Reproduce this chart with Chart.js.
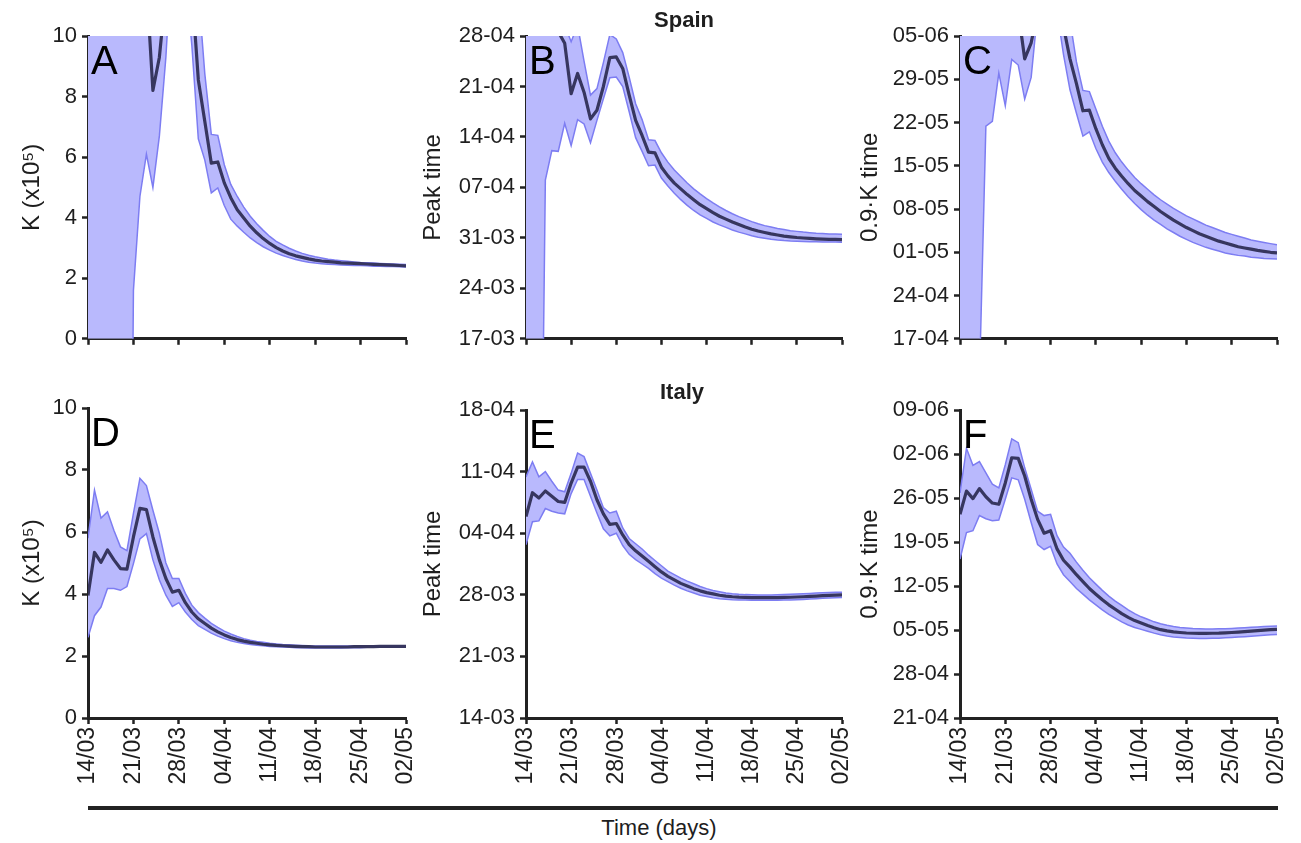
<!DOCTYPE html>
<html>
<head>
<meta charset="utf-8">
<script src="https://cdn.jsdelivr.net/npm/chart.js@4.4.1/dist/chart.umd.min.js"></script>
<style>
  body { margin: 0; background: #fff; width: 1301px; height: 843px; position: relative; overflow: hidden;
         font-family: "Liberation Sans", Arial, sans-serif; color: #1e1e1e; }
  canvas { position: absolute; }
  .country { position: absolute; font-weight: bold; font-size: 22px; line-height: 22px; transform: translateX(-50%); }
  #timeLine { position: absolute; left: 88px; top: 806px; width: 1190px; height: 4px; background: #222; }
  #timeLabel { position: absolute; left: 659px; top: 816px; font-size: 22px; line-height: 24px; transform: translateX(-50%); }
</style>
</head>
<body>
<canvas id="cA" width="420" height="357" style="left:0px;top:0px"></canvas>
<canvas id="cB" width="440" height="357" style="left:410px;top:0px"></canvas>
<canvas id="cC" width="456" height="357" style="left:845px;top:0px"></canvas>
<canvas id="cD" width="420" height="420" style="left:0px;top:372px"></canvas>
<canvas id="cE" width="440" height="420" style="left:410px;top:372px"></canvas>
<canvas id="cF" width="456" height="420" style="left:845px;top:372px"></canvas>
<div class="country" style="left:684px;top:9px">Spain</div>
<div class="country" style="left:682px;top:381px">Italy</div>
<div id="timeLine"></div>
<div id="timeLabel">Time (days)</div>

<script>
// x: days since 14/03 (one point per day up to 02/05)
const xTickDays = [0, 7, 14, 21, 28, 35, 42, 49];
const xTickLabels = ['14/03', '21/03', '28/03', '04/04', '11/04', '18/04', '25/04', '02/05'];

// y ticks. Dates are counted as days since 01-03
const kTicks = [0, 2, 4, 6, 8, 10];
const kTickLabels = ['0', '2', '4', '6', '8', '10'];
const peakSpainTicks = [16, 23, 30, 37, 44, 51, 58];
const peakSpainLabels = ['17-03', '24-03', '31-03', '07-04', '14-04', '21-04', '28-04'];
const kTimeSpainTicks = [47, 54, 61, 68, 75, 82, 89, 96];
const kTimeSpainLabels = ['17-04', '24-04', '01-05', '08-05', '15-05', '22-05', '29-05', '05-06'];
const peakItalyTicks = [13, 20, 27, 34, 41, 48];
const peakItalyLabels = ['14-03', '21-03', '28-03', '04-04', '11-04', '18-04'];
const kTimeItalyTicks = [51, 58, 65, 72, 79, 86, 93, 100];
const kTimeItalyLabels = ['21-04', '28-04', '05-05', '12-05', '19-05', '26-05', '02-06', '09-06'];

// Spain, K (x10^5)
const kSpain = [20, 24, 28, 26, 22, 19, 17, 15, 13.5, 11.8, 8.2, 9.3, 11.5, 14, 16, 14, 11.6, 8.55, 7.18, 5.8,
  5.84, 5.15, 4.66, 4.26, 3.99, 3.72, 3.5, 3.31, 3.15, 3.01, 2.9, 2.81, 2.74, 2.69, 2.64, 2.6, 2.57, 2.55, 2.53, 2.51,
  2.5, 2.49, 2.48, 2.47, 2.46, 2.45, 2.44, 2.43, 2.42, 2.41];
const kSpainUpper = [40, 45, 50, 45, 40, 38, 35, 33, 30, 25, 22, 20, 25, 28, 26, 20, 15, 11.5, 8.75, 6.75,
  6.72, 5.75, 5.1, 4.7, 4.35, 4.05, 3.8, 3.58, 3.38, 3.22, 3.1, 2.99, 2.9, 2.82, 2.76, 2.71, 2.67, 2.63, 2.6, 2.58,
  2.56, 2.54, 2.52, 2.51, 2.5, 2.49, 2.48, 2.47, 2.46, 2.45];
const kSpainLower = [-30, -40, -50, -45, -40, -35, -25, 1.6, 4.7, 6.1, 5.0, 6.7, 9.3, 13, 15, 12, 9.7, 6.6, 5.9, 4.82,
  4.98, 4.4, 3.95, 3.72, 3.52, 3.33, 3.18, 3.04, 2.93, 2.83, 2.75, 2.68, 2.62, 2.57, 2.53, 2.5, 2.48, 2.46, 2.45, 2.44,
  2.43, 2.42, 2.42, 2.41, 2.4, 2.4, 2.39, 2.39, 2.38, 2.37];

// Spain, peak time
const peakSpain = [66, 68, 67, 64, 61, 58.6, 57.0, 50.0, 52.8, 50.2, 46.5, 47.7, 51.0, 55.0, 55.1, 53.5, 49.8, 46.3, 44.2, 41.9,
  41.8, 39.8, 38.6, 37.6, 36.8, 36.0, 35.3, 34.6, 34.05, 33.5, 33.0, 32.6, 32.2, 31.85, 31.5, 31.2, 30.95, 30.75, 30.55, 30.4,
  30.25, 30.15, 30.05, 29.98, 29.92, 29.87, 29.83, 29.8, 29.78, 29.75];
const peakSpainUpper = [80, 85, 90, 88, 80, 70, 59.5, 57.2, 59.5, 54.5, 49.8, 50.7, 54.3, 58.2, 57.6, 55.7, 52.3, 48.6, 46.4, 43.6,
  43.5, 41.8, 40.5, 39.4, 38.5, 37.6, 36.8, 36.1, 35.45, 34.85, 34.3, 33.8, 33.35, 32.95, 32.6, 32.25, 31.95, 31.7, 31.5, 31.3,
  31.15, 31.0, 30.9, 30.8, 30.72, 30.65, 30.6, 30.55, 30.52, 30.5];
const peakSpainLower = [-60, -50, -40, 38, 42.1, 42.0, 45.9, 42.8, 46.4, 45.8, 43.2, 46.3, 49.3, 52.2, 52.3, 51.0, 47.5, 43.9, 42.0, 40.0,
  40.1, 38.3, 37.2, 36.2, 35.3, 34.5, 33.8, 33.2, 32.7, 32.2, 31.8, 31.45, 31.1, 30.8, 30.55, 30.3, 30.1, 29.95, 29.8, 29.7,
  29.62, 29.56, 29.52, 29.49, 29.47, 29.45, 29.43, 29.42, 29.41, 29.4];

// Spain, 0.9K time
const kTimeSpain = [108, 112, 115, 113, 110, 108, 106, 104, 102, 100, 92.3, 94.9, 100, 104, 106, 103, 97.5, 92.3, 88.3, 83.9,
  84.0, 81.0, 78.4, 76.2, 74.6, 73.3, 72.1, 71.0, 70.1, 69.2, 68.4, 67.6, 66.9, 66.2, 65.6, 65.0, 64.5, 64.0, 63.6, 63.2,
  62.8, 62.5, 62.2, 61.9, 61.7, 61.5, 61.3, 61.15, 61.0, 60.9];
const kTimeSpainUpper = [150, 160, 170, 165, 155, 150, 145, 140, 135, 130, 125, 120, 125, 130, 125, 115, 105, 98.5, 91.8, 87.2,
  87.0, 84.2, 81.4, 79.0, 77.1, 75.6, 74.3, 73.1, 72.1, 71.2, 70.3, 69.5, 68.8, 68.1, 67.5, 66.9, 66.4, 65.9, 65.4, 65.0,
  64.6, 64.2, 63.9, 63.6, 63.3, 63.0, 62.8, 62.6, 62.4, 62.2];
const kTimeSpainLower = [0, 10, 25, 40, 81.4, 82.2, 90.0, 84.7, 92.2, 91.3, 85.8, 89.3, 100, 105, 104, 100, 93.0, 87.3, 83.5, 79.8,
  80.5, 77.8, 75.6, 73.9, 72.5, 71.2, 70.0, 68.9, 67.9, 67.0, 66.2, 65.5, 64.8, 64.2, 63.6, 63.1, 62.6, 62.2, 61.8, 61.5,
  61.2, 60.9, 60.7, 60.5, 60.4, 60.2, 60.1, 60.0, 59.95, 59.9];

// Italy, K (x10^5)
const kItaly = [3.95, 5.34, 5.02, 5.42, 5.1, 4.82, 4.8, 5.84, 6.76, 6.72, 5.84, 5.1, 4.5, 4.06, 4.12, 3.72, 3.42, 3.2, 3.05, 2.9,
  2.78, 2.68, 2.6, 2.53, 2.48, 2.44, 2.41, 2.38, 2.36, 2.34, 2.33, 2.32, 2.31, 2.3, 2.3, 2.29, 2.29, 2.29, 2.29, 2.29,
  2.29, 2.3, 2.3, 2.3, 2.3, 2.31, 2.31, 2.31, 2.31, 2.31];
const kItalyUpper = [5.8, 7.35, 6.45, 6.65, 6.05, 5.52, 5.4, 6.6, 7.73, 7.5, 6.7, 5.95, 5.0, 4.5, 4.5, 4.02, 3.64, 3.4, 3.22, 3.05,
  2.92, 2.8, 2.71, 2.63, 2.56, 2.51, 2.47, 2.44, 2.41, 2.39, 2.37, 2.36, 2.35, 2.34, 2.33, 2.32, 2.32, 2.32, 2.32, 2.32,
  2.32, 2.32, 2.32, 2.33, 2.33, 2.33, 2.33, 2.33, 2.33, 2.33];
const kItalyLower = [2.6, 3.3, 3.58, 4.18, 4.18, 4.12, 4.24, 4.98, 5.78, 5.95, 5.1, 4.45, 3.96, 3.6, 3.72, 3.42, 3.18, 2.98, 2.86, 2.74,
  2.64, 2.56, 2.49, 2.44, 2.4, 2.37, 2.35, 2.33, 2.31, 2.3, 2.29, 2.28, 2.27, 2.27, 2.26, 2.26, 2.26, 2.26, 2.26, 2.26,
  2.27, 2.27, 2.27, 2.28, 2.28, 2.28, 2.28, 2.29, 2.29, 2.29];

// Italy, peak time
const peakItaly = [35.9, 38.6, 38.0, 38.8, 38.2, 37.6, 37.5, 39.7, 41.5, 41.5, 39.9, 37.8, 36.2, 35.0, 35.1, 33.8, 32.7, 32.0, 31.4, 30.8,
  30.2, 29.6, 29.1, 28.7, 28.3, 28.0, 27.7, 27.45, 27.25, 27.1, 26.95, 26.85, 26.78, 26.73, 26.7, 26.68, 26.67, 26.67, 26.67, 26.68,
  26.7, 26.72, 26.75, 26.78, 26.82, 26.86, 26.9, 26.93, 26.97, 27.0];
const peakItalyUpper = [40.4, 42.1, 40.4, 41.0, 39.9, 38.9, 38.7, 40.8, 43.1, 42.7, 40.8, 38.9, 36.9, 36.3, 36.5, 34.6, 33.4, 32.8, 32.2, 31.5,
  30.9, 30.3, 29.7, 29.3, 28.9, 28.55, 28.25, 27.95, 27.7, 27.5, 27.35, 27.2, 27.12, 27.06, 27.02, 27.0, 26.98, 26.98, 26.98, 27.0,
  27.02, 27.05, 27.08, 27.12, 27.16, 27.2, 27.23, 27.26, 27.28, 27.3];
const peakItalyLower = [32.7, 35.3, 35.4, 36.8, 36.5, 36.3, 36.2, 38.5, 40.1, 40.1, 38.2, 36.3, 34.5, 33.7, 34.0, 32.6, 31.6, 31.0, 30.5, 30.0,
  29.4, 28.9, 28.5, 28.1, 27.75, 27.45, 27.2, 26.95, 26.8, 26.65, 26.55, 26.5, 26.45, 26.42, 26.4, 26.38, 26.37, 26.37, 26.37, 26.38,
  26.4, 26.42, 26.45, 26.48, 26.52, 26.56, 26.6, 26.63, 26.67, 26.7];

// Italy, 0.9K time
const kTimeItaly = [83.4, 87.1, 85.9, 87.5, 86.2, 85.2, 85.0, 88.4, 92.4, 92.3, 89.5, 85.8, 82.6, 80.4, 80.8, 77.9, 76.1, 75.0, 73.8, 72.7,
  71.6, 70.7, 69.8, 69.0, 68.3, 67.6, 67.0, 66.5, 66.1, 65.7, 65.35, 65.05, 64.85, 64.7, 64.6, 64.52, 64.48, 64.46, 64.46, 64.48,
  64.5, 64.55, 64.6, 64.67, 64.74, 64.82, 64.9, 64.98, 65.05, 65.1];
const kTimeItalyUpper = [86.8, 93.9, 91.2, 91.8, 90.0, 88.2, 87.6, 91.3, 95.4, 94.8, 90.8, 87.4, 83.9, 83.2, 83.4, 80.0, 78.2, 77.2, 75.8, 74.5,
  73.3, 72.3, 71.3, 70.4, 69.6, 68.9, 68.2, 67.6, 67.1, 66.7, 66.3, 66.0, 65.75, 65.55, 65.4, 65.3, 65.22, 65.18, 65.16, 65.16,
  65.18, 65.21, 65.25, 65.3, 65.36, 65.42, 65.48, 65.54, 65.6, 65.65];
const kTimeItalyLower = [76.3, 80.5, 80.8, 83.2, 82.7, 82.4, 82.5, 85.8, 89.2, 88.9, 85.8, 82.1, 78.6, 77.8, 78.3, 75.5, 73.8, 72.7, 71.6, 70.7,
  69.8, 69.0, 68.2, 67.5, 66.9, 66.3, 65.8, 65.4, 65.1, 64.8, 64.5, 64.25, 64.05, 63.9, 63.8, 63.72, 63.68, 63.66, 63.66, 63.68,
  63.7, 63.75, 63.8, 63.87, 63.94, 64.02, 64.1, 64.18, 64.25, 64.3];

const FONT = '"Liberation Sans", Arial, sans-serif';
const TXT = '#1e1e1e';
const AXIS = '#222';
const MID = '#37365f';
const EDGE = '#7d7df2';
const BAND = '#b9b9fd';

// big panel letters in the top-left corner of each plot
const panelLetter = {
  id: 'panelLetter',
  afterDraw(chart, args, opts) {
    const { ctx, chartArea } = chart;
    ctx.save();
    ctx.font = '40px ' + FONT;
    ctx.fillStyle = '#000';
    ctx.fillText(opts.text, chartArea.left + 3, chartArea.top + 38);
    ctx.restore();
  }
};

const xy = arr => arr.map((v, i) => ({ x: i, y: v }));

function makePanel(p) {
  const row2 = p.showX;
  return new Chart(document.getElementById(p.id), {
    type: 'line',
    data: {
      datasets: [
        { data: xy(p.mid), borderColor: MID, borderWidth: 3.2, pointRadius: 0, fill: false, borderJoinStyle: 'round' },
        { data: xy(p.upper), borderColor: EDGE, borderWidth: 1.5, pointRadius: 0, fill: '+1', backgroundColor: BAND },
        { data: xy(p.lower), borderColor: EDGE, borderWidth: 1.5, pointRadius: 0, fill: false }
      ]
    },
    options: {
      responsive: false,
      animation: false,
      devicePixelRatio: 1,
      events: [],
      layout: { padding: { top: p.padTop, right: p.padRight, bottom: row2 ? 4 : 0, left: 0 } },
      plugins: {
        legend: { display: false },
        tooltip: { enabled: false },
        filler: { drawTime: 'beforeDatasetsDraw' },
        panelLetter: { text: p.letter }
      },
      scales: {
        x: {
          type: 'linear', min: 0, max: 49,
          afterBuildTicks: s => { s.ticks = xTickDays.map(v => ({ value: v })); },
          afterFit: s => { s.height = row2 ? 70 : 10; s.paddingLeft = 0; s.paddingRight = 0; },
          ticks: {
            display: row2, autoSkip: false, minRotation: 90, maxRotation: 90, padding: 3,
            color: TXT, font: { size: 23, family: FONT },
            callback: (v, i) => xTickLabels[i]
          },
          grid: { display: true, drawOnChartArea: false, drawTicks: true, tickLength: 6, tickWidth: 2.5, tickColor: AXIS },
          border: { display: true, color: AXIS, width: 3 }
        },
        y: {
          type: 'linear', min: p.yTicks[0], max: p.yTicks[p.yTicks.length - 1],
          afterBuildTicks: s => { s.ticks = p.yTicks.map(v => ({ value: v })); },
          afterFit: s => { s.width = p.yWidth; },
          ticks: { padding: 5, color: TXT, font: { size: 22, family: FONT }, callback: (v, i) => p.yLabels[i] },
          grid: { display: true, drawOnChartArea: false, drawTicks: true, tickLength: 6, tickWidth: 2.5, tickColor: AXIS },
          border: { display: true, color: AXIS, width: 3 },
          title: { display: true, text: p.yTitle, color: TXT, font: { size: 24, family: FONT }, padding: { top: p.titlePad, bottom: 0 } }
        }
      }
    },
    plugins: [panelLetter]
  });
}

const colA = { yWidth: 88, padRight: 14, titlePad: 18 };
const colB = { yWidth: 116, padRight: 8, titlePad: 9 };
const colC = { yWidth: 115, padRight: 24, titlePad: 11 };

makePanel({ id: 'cA', letter: 'A', ...colA, padTop: 36, showX: false, yTicks: kTicks, yLabels: kTickLabels, yTitle: 'K (x10⁵)',
  mid: kSpain, upper: kSpainUpper, lower: kSpainLower });
makePanel({ id: 'cB', letter: 'B', ...colB, padTop: 36, showX: false, yTicks: peakSpainTicks, yLabels: peakSpainLabels, yTitle: 'Peak time',
  mid: peakSpain, upper: peakSpainUpper, lower: peakSpainLower });
makePanel({ id: 'cC', letter: 'C', ...colC, padTop: 36, showX: false, yTicks: kTimeSpainTicks, yLabels: kTimeSpainLabels, yTitle: '0.9·K time',
  mid: kTimeSpain, upper: kTimeSpainUpper, lower: kTimeSpainLower });
makePanel({ id: 'cD', letter: 'D', ...colA, padTop: 36, showX: true, yTicks: kTicks, yLabels: kTickLabels, yTitle: 'K (x10⁵)',
  mid: kItaly, upper: kItalyUpper, lower: kItalyLower });
makePanel({ id: 'cE', letter: 'E', ...colB, padTop: 38, showX: true, yTicks: peakItalyTicks, yLabels: peakItalyLabels, yTitle: 'Peak time',
  mid: peakItaly, upper: peakItalyUpper, lower: peakItalyLower });
makePanel({ id: 'cF', letter: 'F', ...colC, padTop: 38, showX: true, yTicks: kTimeItalyTicks, yLabels: kTimeItalyLabels, yTitle: '0.9·K time',
  mid: kTimeItaly, upper: kTimeItalyUpper, lower: kTimeItalyLower });
</script>
</body>
</html>
